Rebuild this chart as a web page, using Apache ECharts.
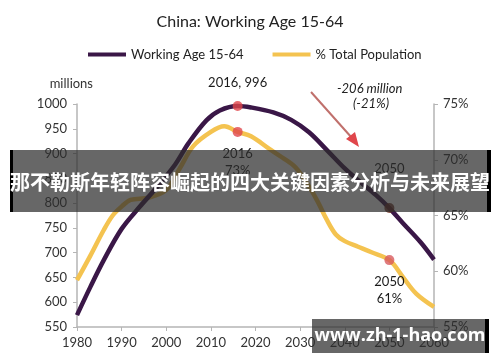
<!DOCTYPE html>
<html><head><meta charset="utf-8">
<script src="https://cdn.jsdelivr.net/npm/echarts@6/dist/echarts.min.js"></script>
<style>html,body{margin:0;padding:0;background:#fff}#c{width:500px;height:362px}</style>
</head><body><div id="c"></div>
<script>
// ---- data ----
const title = 'China: Working Age 15-64';
const seriesNames = ['Working Age 15-64', '% Total Population'];
const workYears = [1980,1983,1986,1990,1994,1998,2002,2005,2009,2012,2016,2019,2024,2028,2032,2036,2040,2043,2047,2050,2053,2057,2060];
const workValues = [574,631,685,748,792,833,878,921,967,987,996,993,983,968,943,907,870,846,816,790,760,721,686];
const pctYears = [1980,1983,1986,1988,1990,1992,1996,2000,2003,2006,2010,2013,2016,2019,2023,2026,2029,2032,2034,2036,2038,2040,2043,2046,2050,2053,2056,2060];
const pctValues = [59.2,61.4,63.7,65.0,65.8,66.4,66.6,67.3,69.2,71.2,72.5,73.0,72.5,72.1,71.0,70.2,69.3,67.6,66.2,64.6,63.3,62.7,62.2,61.7,61.0,59.5,58.0,56.8];
const xTicks = [1980,1990,2000,2010,2020,2030,2040,2050,2060];
const leftTicks = [550,600,650,700,750,800,850,900,950,1000];
const rightTicks = [55,60,65,70,75];
const highlightWork = [[2016,996],[2050,790]];
const highlightPct = [[2016,72.5],[2050,61]];
const pctLabels = ['73%','61%'];
const bannerText = '那不勒斯年轻阵容崛起的四大关键因素分析与未来展望';
const watermark = 'www.zh-1-hao.com';

const FONT = 'Lato, "Noto Sans", sans-serif';
const PURPLE = '#3a1747', YELLOW = '#f4c350';
const chart = echarts.init(document.getElementById('c'), null, {renderer:'canvas'});

const zip = (a,b)=>a.map((v,i)=>[v,b[i]]);
const lbl = {fontFamily:FONT,fontSize:13,color:'#1a1a1a',opacity:1,textBorderWidth:0};

chart.setOption({
  animation:false,
  textStyle:{fontFamily:FONT},
  title:{text:title,left:'center',top:9,textStyle:{fontFamily:FONT,fontSize:16,fontWeight:'normal',color:'#222'}},
  legend:{top:43,left:83,itemGap:29,itemWidth:38,itemHeight:4,icon:'rect',
    textStyle:{fontFamily:FONT,fontSize:13,color:'#222'},
    data:seriesNames},
  grid:{left:77,right:66,top:104,bottom:35},
  xAxis:{type:'value',min:xTicks[0],max:xTicks[xTicks.length-1],interval:10,
    axisLine:{lineStyle:{color:'#b5b5b5',width:1.5}},
    axisTick:{show:true,length:4,lineStyle:{color:'#b5b5b5'}},
    splitLine:{show:false},
    axisLabel:{fontFamily:FONT,fontSize:13,color:'#333',margin:9,formatter:v=>String(v)}},
  yAxis:[
    {type:'value',min:leftTicks[0],max:leftTicks[leftTicks.length-1],interval:50,
     name:'millions',nameLocation:'end',nameGap:14,
     nameTextStyle:{fontFamily:FONT,fontSize:13,color:'#333',align:'right',padding:[0,-16,0,0]},
     axisLine:{show:true,lineStyle:{color:'#b5b5b5',width:1.5}},
     axisTick:{show:true,length:4,lineStyle:{color:'#b5b5b5'}},
     splitLine:{show:false},
     axisLabel:{fontFamily:FONT,fontSize:13,color:'#333',margin:10,formatter:v=>String(v)}},
    {type:'value',min:rightTicks[0],max:rightTicks[rightTicks.length-1],interval:5,position:'right',
     axisLine:{show:true,lineStyle:{color:'#b5b5b5',width:1.5}},
     axisTick:{show:true,length:4,lineStyle:{color:'#b5b5b5'}},
     splitLine:{show:false},
     axisLabel:{fontFamily:FONT,fontSize:13,color:'#333',margin:9,formatter:'{value}%'}}
  ],
  series:[
    {name:seriesNames[0],type:'line',yAxisIndex:0,data:zip(workYears,workValues),smooth:0.35,
     showSymbol:false,lineStyle:{color:PURPLE,width:4.5},itemStyle:{color:PURPLE},z:3},
    {name:seriesNames[1],type:'line',yAxisIndex:1,data:zip(pctYears,pctValues),smooth:0.35,
     showSymbol:false,lineStyle:{color:YELLOW,width:4.5},itemStyle:{color:YELLOW},z:2},
    {type:'scatter',yAxisIndex:0,symbolSize:10,z:5,emphasis:{disabled:true},
     labelLayout:{hideOverlap:false},
     data:[
       {value:highlightWork[0],itemStyle:{color:'#e0464b'},
        label:Object.assign({show:true,position:'top',distance:12,formatter:p=>p.value[0]+', '+p.value[1]},lbl)},
       {value:highlightWork[1],itemStyle:{color:'#6a2a1c'},
        label:Object.assign({show:true,position:'top',distance:28,formatter:p=>String(p.value[0])},lbl)}
     ]},
    {type:'scatter',yAxisIndex:1,symbolSize:10,z:5,emphasis:{disabled:true},
     data:highlightPct.map((d,i)=>({value:d,itemStyle:{color:i===0?'#e0464b':'#d85a5e'},
        label:Object.assign({show:true,position:'bottom',distance:8,lineHeight:17,formatter:p=>p.value[0]+'\n'+pctLabels[i]},lbl)}))}
  ],
  graphic:[
    {type:'text',left:337,top:82,style:{text:'-206 million',font:'italic 13px '+FONT,fill:'#222'}},
    {type:'text',left:353,top:97,style:{text:'(-21%)',font:'italic 13px '+FONT,fill:'#222'}},
    {type:'line',shape:{x1:311,y1:92,x2:352,y2:138},style:{stroke:'#c0706c',lineWidth:2}},
    {type:'polygon',shape:{points:[[359,147],[346,139],[355,132]]},style:{fill:'#e0464b'}},
    {type:'rect',shape:{x:10,y:150,width:480,height:62},style:{fill:'rgba(45,45,45,0.72)'},z:100},
    {type:'rect',shape:{x:10,y:150,width:3,height:62},style:{fill:'#000'},z:101},
    {type:'rect',shape:{x:487,y:150,width:4,height:62},style:{fill:'#000'},z:101},
    {type:'text',x:250,y:182,z:102,style:{text:bannerText,fill:'#fff',font:'bold 20px "Noto Sans CJK SC", sans-serif',textAlign:'center',textVerticalAlign:'middle'}},
    {type:'rect',shape:{x:312,y:319,width:175,height:34},style:{fill:'rgba(45,45,45,0.72)'},z:100},
    {type:'rect',shape:{x:485,y:319,width:4,height:34},style:{fill:'#000'},z:101},
    {type:'text',x:400,y:336,z:102,style:{text:watermark,fill:'#fff',font:'bold 18px "Open Sans", sans-serif',textAlign:'center',textVerticalAlign:'middle'}}
  ]
});
</script></body></html>
